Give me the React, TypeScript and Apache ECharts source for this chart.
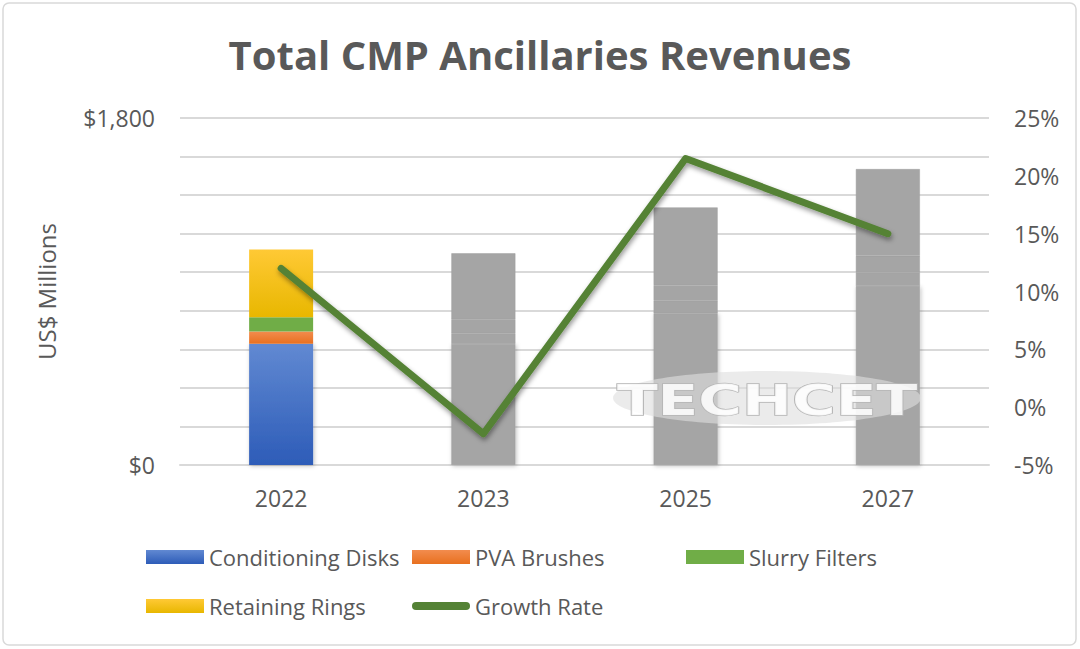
import { useEffect, useRef } from 'react';
import * as echarts from 'echarts';

// categorías y valores (US$ millones)
const years = ['2022', '2023', '2025', '2027'];
const conditioningDisks = [629, 628, 787, 928];
const pvaBrushes = [64, 55, 65, 71];
const slurryFilters = [74, 73, 81, 86];
const retainingRings = [351, 342, 403, 450];
// tasa de crecimiento (%)
const growthRate = [12.0, -2.3, 21.5, 15.0];

const TEXT = '#595959';
const GRAY = '#a5a5a5';
const FONT = '"Open Sans", sans-serif';

const vGrad = (top: string, bottom: string) =>
    new echarts.graphic.LinearGradient(0, 0, 0, 1, [
        { offset: 0, color: top },
        { offset: 1, color: bottom }
    ]);

// solo 2022 lleva color, los demás años van en gris
const toBarData = (values: number[]) =>
    values.map((v, i) =>
        i === 0
            ? v
            : {
                value: v,
                itemStyle: { color: GRAY, borderColor: '#9f9f9f', borderWidth: 0.5 }
            }
    );

// la sombra solo en el segmento inferior para no marcar las uniones
const barSeries = (name: string, values: number[], color: unknown, shadow = false) => ({
    name,
    type: 'bar',
    stack: 'total',
    barWidth: 64,
    data: toBarData(values),
    itemStyle: shadow
        ? {
            color,
            shadowColor: 'rgba(0,0,0,0.25)',
            shadowBlur: 4,
            shadowOffsetX: 1,
            shadowOffsetY: 1
        }
        : { color }
});

// icono tipo "cápsula" para la línea de crecimiento
const LINE_ICON = 'path://M4,0 L54,0 A4,4 0 0 1 54,8 L4,8 A4,4 0 0 1 4,0 Z';

const legendAt = (name: string, left: number, top: number, line = false) => ({
    data: [name],
    left,
    top,
    padding: 0,
    icon: line ? LINE_ICON : 'rect',
    itemWidth: 58,
    itemHeight: line ? 8 : 14,
    textStyle: { fontSize: 22, color: TEXT, fontFamily: FONT }
});

export default function App() {
    const chartRef = useRef<HTMLDivElement>(null);

    useEffect(() => {
        if (!chartRef.current) return;
        const chart = echarts.init(chartRef.current, null, { renderer: 'svg' });

        const option = {
            animation: false,
            backgroundColor: '#ffffff',
            textStyle: { fontFamily: FONT },
            title: {
                text: 'Total CMP Ancillaries Revenues',
                left: 'center',
                top: 29,
                textStyle: { fontSize: 40, fontWeight: 'bold', color: TEXT, fontFamily: FONT }
            },
            grid: { left: 180, right: 91, top: 118, bottom: 184 },
            legend: [
                legendAt('Conditioning Disks', 146, 546),
                legendAt('PVA Brushes', 412, 546),
                legendAt('Slurry Filters', 686, 546),
                legendAt('Retaining Rings', 146, 595),
                legendAt('Growth Rate', 412, 595, true)
            ],
            xAxis: {
                type: 'category',
                data: years,
                axisTick: { show: false },
                axisLine: { lineStyle: { color: '#d9d9d9', width: 2 } },
                axisLabel: { fontSize: 23, color: TEXT, margin: 21 }
            },
            yAxis: [
                {
                    type: 'value',
                    min: 0,
                    max: 1800,
                    interval: 200,
                    name: 'US$ Millions',
                    nameLocation: 'middle',
                    nameGap: 122,
                    nameTextStyle: { fontSize: 24, color: TEXT },
                    axisLabel: {
                        fontSize: 23,
                        color: TEXT,
                        margin: 25,
                        formatter: (v: number) => (v === 0 ? '$0' : v === 1800 ? '$1,800' : '')
                    },
                    splitLine: { lineStyle: { color: '#d9d9d9', width: 2 } }
                },
                {
                    type: 'value',
                    min: -5,
                    max: 25,
                    interval: 5,
                    axisLabel: { fontSize: 23, color: TEXT, margin: 25, formatter: '{value}%' },
                    splitLine: { show: false }
                }
            ],
            series: [
                barSeries('Conditioning Disks', conditioningDisks, vGrad('#6189d2', '#2d5cb8'), true),
                barSeries('PVA Brushes', pvaBrushes, vGrad('#f28c4e', '#e8701f')),
                barSeries('Slurry Filters', slurryFilters, '#70ad47'),
                barSeries('Retaining Rings', retainingRings, vGrad('#ffc935', '#e8b700')),
                {
                    name: 'Growth Rate',
                    type: 'line',
                    yAxisIndex: 1,
                    data: growthRate,
                    symbol: 'none',
                    z: 6,
                    lineStyle: {
                        color: '#548235',
                        width: 7,
                        cap: 'round',
                        join: 'round',
                        shadowColor: 'rgba(0,0,0,0.4)',
                        shadowBlur: 5,
                        shadowOffsetX: 1,
                        shadowOffsetY: 3
                    },
                    itemStyle: { color: '#548235' }
                }
            ],
            graphic: [
                {
                    type: 'rect',
                    shape: { x: 3, y: 3, width: 1073, height: 642, r: 6 },
                    style: { fill: 'none', stroke: '#d9d9d9', lineWidth: 1.5 },
                    silent: true
                },
                {
                    type: 'ellipse',
                    z: 5,
                    shape: { cx: 767, cy: 398, rx: 154, ry: 27 },
                    style: { fill: 'rgba(222,222,222,0.61)' },
                    silent: true
                },
                {
                    type: 'text',
                    z: 6,
                    x: 767,
                    y: 400,
                    scaleX: 1.42,
                    style: {
                        text: 'TECHCET',
                        x: 0,
                        y: 0,
                        align: 'center',
                        verticalAlign: 'middle',
                        font: 'bold 42px "DejaVu Sans"',
                        fill: 'rgba(255,255,255,0.85)',
                        stroke: '#b5b5b5',
                        lineWidth: 1.4
                    },
                    silent: true
                }
            ]
        };

        chart.setOption(option as echarts.EChartsOption);

        return () => {
            chart.dispose();
        };
    }, []);

    return (
        <div
            ref={chartRef}
            style={{ position: 'fixed', left: 0, top: 0, width: 1080, height: 649 }}
        />
    );
}
